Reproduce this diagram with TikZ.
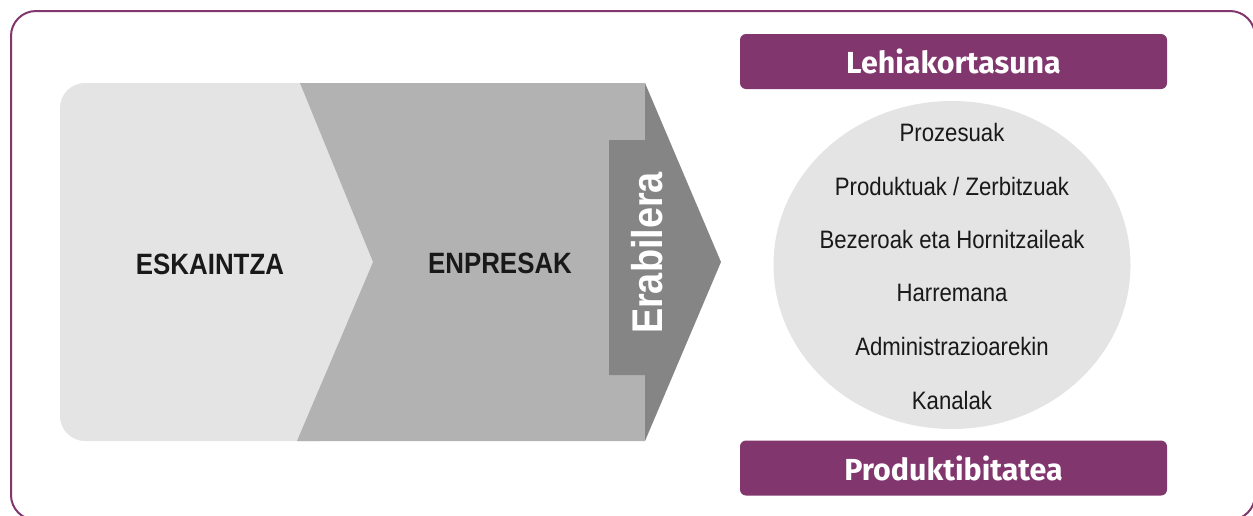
\documentclass[tikz,border=0pt]{standalone}
\usepackage{fontspec}
\setmainfont{Liberation Sans}
\newfontfamily\condfont[FakeStretch=0.88]{Liberation Sans}
\newfontfamily\titlefont{Fira Sans}
\definecolor{framepurple}{HTML}{82366E}
\definecolor{lightgrey}{HTML}{E4E4E4}
\definecolor{midgrey}{HTML}{B2B2B2}
\definecolor{darkgrey}{HTML}{858585}
\begin{document}
\begin{tikzpicture}
    [
        x=0.5pt, y=-0.5pt,
        block/.style={font=\condfont\bfseries\fontsize{14.7}{16}\selectfont, text=black!90},
        item/.style={font=\condfont\fontsize{12.6}{14}\selectfont, text=black!90},
        header/.style={fill=framepurple, rounded corners=3pt, minimum width=213.5pt,
            minimum height=27.5pt, inner sep=0pt, text=white,
            font=\titlefont\bfseries\fontsize{15.2}{17}\selectfont},
    ]
    \useasboundingbox (0,0) rectangle (1253,515);

    % frame
    \begin{scope}
        \clip (0,0) rectangle (1253,515);
        \draw [framepurple, line width=1pt, rounded corners=12.5pt] (11,11) rectangle (1255,520);
    \end{scope}

    % arrow blocks
    \fill [lightgrey, rounded corners=12.5pt] (320,83) -- (60,83) -- (60,441) -- (320,441);
    \fill [lightgrey] (300,83) -- (373,262) -- (297,441) -- (310,441) -- (310,83) -- cycle;
    \fill [midgrey] (300,83) -- (645,83) -- (645,441) -- (297,441) -- (373,262) -- cycle;
    \fill [darkgrey] (645,83) -- (721,262) -- (645,441) -- (645,375) -- (609,375) -- (609,140) -- (645,140) -- cycle;

    \node (eskaintza) at (210,264) [block] {ESKAINTZA};
    \node (enpresak)  at (500,263) [block] {ENPRESAK};
    \node (erabilera) at (647,253) [rotate=90, text=white,
        font=\condfont\bfseries\fontsize{21.5}{24}\selectfont] {Erabilera};

    % right side
    \fill [lightgrey] (952,265) ellipse [x radius=178.5, y radius=164];

    \node (lehia) at (953.5,61.5) [header] {Lehiakortasuna};
    \node (produk) at (953.5,468) [header] {Produktibitatea};

    \node (i1) at (952,132) [item] {Prozesuak};
    \node (i2) at (952,186) [item] {Produktuak / Zerbitzuak};
    \node (i3) at (952,239) [item] {Bezeroak eta Hornitzaileak};
    \node (i4) at (952,293) [item] {Harremana};
    \node (i5) at (952,346) [item] {Administrazioarekin};
    \node (i6) at (952,400) [item] {Kanalak};

\end{tikzpicture}
\end{document}
